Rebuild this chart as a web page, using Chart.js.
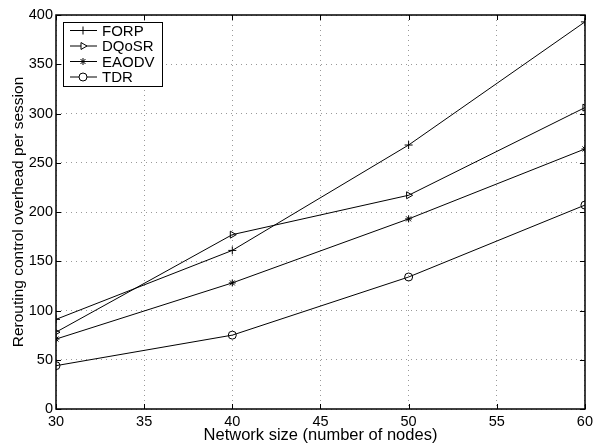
<!DOCTYPE html>
<html>
<head>
<meta charset="utf-8">
<title>Rerouting control overhead</title>
<script src="https://cdn.jsdelivr.net/npm/chart.js@4/dist/chart.umd.min.js"></script>
<style>
  html, body { margin: 0; padding: 0; background: #fff; }
  #wrap { width: 597px; height: 444px; position: relative; }
</style>
</head>
<body>
<div id="wrap"><canvas id="c"></canvas></div>
<script>
// ---- data ----
const nodes = [30, 40, 50, 60];
const forp  = [91, 161, 268, 393];
const dqosr = [78, 177, 217, 306];
const eaodv = [71, 128, 193, 264];
const tdr   = [44, 75, 134, 207];

const FONT = "'Liberation Sans', Arial, Helvetica, sans-serif";
const pts = (ys) => ys.map((y, i) => ({ x: nodes[i], y }));

function series(label, ys, style, extra) {
    return Object.assign({
        label,
        data: pts(ys),
        borderColor: '#000',
        borderWidth: 1,
        pointStyle: style,
        pointRadius: 4,
        pointBorderWidth: 1,
        pointBorderColor: '#000',
        pointBackgroundColor: 'rgba(0,0,0,0)',
        tension: 0,
        fill: false
    }, extra || {});
}

// frame box + inward tick marks (matlab style)
const frame = {
    id: 'frame',
    afterDatasetsDraw(chart) {
        const { ctx, chartArea: a, scales } = chart;
        ctx.save();
        ctx.strokeStyle = '#000';
        ctx.lineWidth = 1;
        ctx.beginPath();
        scales.x.ticks.forEach(t => {
            const px = Math.round(scales.x.getPixelForValue(t.value)) + 0.5;
            ctx.moveTo(px, a.bottom); ctx.lineTo(px, a.bottom - 5);
            ctx.moveTo(px, a.top);    ctx.lineTo(px, a.top + 5);
        });
        scales.y.ticks.forEach(t => {
            const py = Math.round(scales.y.getPixelForValue(t.value)) + 0.5;
            ctx.moveTo(a.left, py);  ctx.lineTo(a.left + 5, py);
            ctx.moveTo(a.right, py); ctx.lineTo(a.right - 5, py);
        });
        ctx.stroke();
        ctx.lineWidth = 1.5;
        ctx.strokeRect(Math.round(a.left), Math.round(a.top), Math.round(a.right - a.left), Math.round(a.bottom - a.top));
        ctx.restore();
    }
};

// legend box with line + marker samples
const boxLegend = {
    id: 'boxLegend',
    afterDraw(chart) {
        const { ctx, chartArea: a } = chart;
        const x0 = a.left + 7, y0 = a.top + 7, w = 99, h = 64;
        ctx.save();
        ctx.fillStyle = '#fff';
        ctx.fillRect(x0, y0, w, h);
        ctx.strokeStyle = '#000';
        ctx.lineWidth = 1;
        ctx.strokeRect(x0 + 0.5, y0 + 0.5, w, h);
        ctx.font = '15px ' + FONT;
        ctx.textBaseline = 'middle';
        chart.data.datasets.forEach((ds, i) => {
            const cy = y0 + 8.5 + i * 15.5;
            ctx.beginPath();
            ctx.moveTo(x0 + 7, cy); ctx.lineTo(x0 + 34, cy);
            ctx.stroke();
            ctx.fillStyle = '#fff';
            Chart.helpers.drawPoint(ctx, {
                pointStyle: ds.pointStyle, radius: ds.pointRadius, rotation: ds.pointRotation || 0, borderWidth: 1
            }, x0 + 20, cy);
            ctx.fillStyle = '#000';
            ctx.fillText(ds.label, x0 + 39, cy + 1);
        });
        ctx.restore();
    }
};

new Chart(document.getElementById('c'), {
    type: 'line',
    data: {
        datasets: [
            series('FORP', forp, 'cross'),
            series('DQoSR', dqosr, 'triangle', { pointRotation: 90 }),
            series('EAODV', eaodv, 'star', { pointRadius: 3.5 }),
            series('TDR', tdr, 'circle')
        ]
    },
    options: {
        responsive: true,
        maintainAspectRatio: false,
        animation: false,
        layout: { padding: { top: 15, right: 8, left: 0, bottom: 0 } },
        plugins: { legend: { display: false }, tooltip: { enabled: false } },
        scales: {
            x: {
                type: 'linear', min: 30, max: 60,
                afterFit: (s) => { s.height = 35; },
                ticks: { stepSize: 5, color: '#000', padding: 4, font: { family: FONT, size: 14.5 } },
                grid: { color: '#999', drawTicks: false, lineWidth: 1 },
                border: { display: false, dash: [1, 4] },
                title: { display: true, text: 'Network size (number of nodes)', color: '#000',
                         font: { family: FONT, size: 16.5 }, padding: { top: 0, bottom: -1 } }
            },
            y: {
                min: 0, max: 400,
                afterFit: (s) => { s.width = 56; },
                ticks: { stepSize: 50, color: '#000', padding: 3, font: { family: FONT, size: 14.5 } },
                grid: { color: '#999', drawTicks: false, lineWidth: 1 },
                border: { display: false, dash: [1, 4] },
                title: { display: true, text: 'Rerouting control overhead per session', color: '#000',
                         font: { family: FONT, size: 15.5 }, padding: { top: 9, bottom: 0 } }
            }
        }
    },
    plugins: [frame, boxLegend]
});
</script>
</body>
</html>
